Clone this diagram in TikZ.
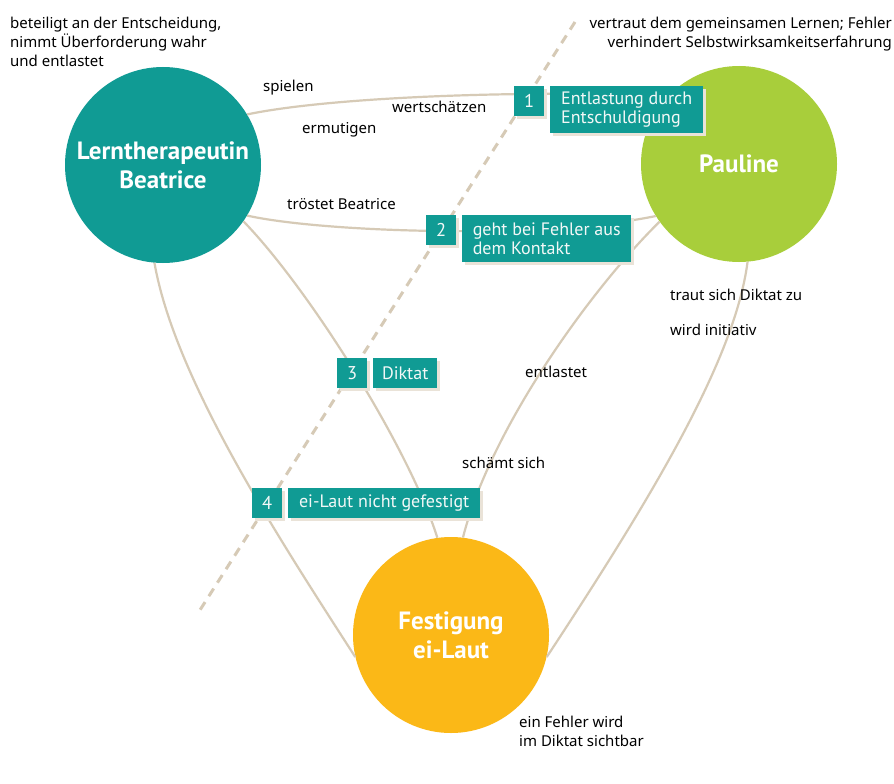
\documentclass[tikz,border=0pt]{standalone}
\usepackage{fontspec}
\setmainfont{PT Sans}
\newfontfamily\hand{Noto Sans}
\usetikzlibrary{shadows}
\definecolor{teal1}{HTML}{109B94}
\definecolor{green1}{HTML}{A8CE3B}
\definecolor{yellow1}{HTML}{FBB817}
\definecolor{beige1}{HTML}{D6CAB6}
\definecolor{shadow1}{HTML}{EAE3D8}
\definecolor{boxtext}{HTML}{F2F8F7}
\begin{document}
\begin{tikzpicture}[x=1pt,y=-1pt,
 bigcircle/.style={circle, minimum size=196pt, inner sep=0pt, text=white,
   font=\fontsize{25}{29}\selectfont\bfseries, align=center},
 conn/.style={draw=beige1, line width=2.2pt},
 boxshadow/.style={drop shadow={shadow xshift=3pt,shadow yshift=-3pt,fill=shadow1,opacity=1}},
 numbox/.style={fill=teal1, text=boxtext, minimum width=30pt, minimum height=30pt,
   inner sep=0pt, anchor=north west, font=\fontsize{18.5}{19}\selectfont, boxshadow},
 txtbox/.style={fill=teal1, text=boxtext, inner xsep=7pt, inner ysep=0pt,
   anchor=north west, align=left, font=\fontsize{18}{19}\selectfont, boxshadow},
 hw/.style={font=\hand\fontsize{15}{19}\selectfont, text=black, inner sep=0pt}
]
\useasboundingbox (0,0) rectangle (894,784);
\clip (0,0) rectangle (894,784);
\fill[white] (0,0) rectangle (894,784);

% circles
\node[bigcircle, fill=teal1] (B) at (163,165) {Lerntherapeutin\\Beatrice};
\node[bigcircle, fill=green1] (P) at (739,164) {Pauline};
\node[bigcircle, fill=yellow1] (F) at (451,635) {Festigung\\ei-Laut};

% connectors
\draw[conn] (B.31) .. controls (330,97) and (520,90) .. (P.136);
\draw[conn] (B.-31) .. controls (320,232) and (540,240) .. (P.212);
\draw[conn] (B.-35) .. controls (310,290) and (410,450) .. (F.98);
\draw[conn] (B.265) .. controls (175,380) and (280,540) .. (F.193);
\draw[conn] (P.216) .. controls (590,290) and (490,430) .. (F.83);
\draw[conn] (P.275) .. controls (735,360) and (650,500) .. (F.-13);

% dashed divider
\coordinate (d1) at (575,22);
\coordinate (d2) at (200,610);
\draw[draw=beige1, line width=3pt, dash pattern=on 9pt off 7pt] (d1) -- (d2);

% labels
\node[numbox] (n1) at (514,86) {1};
\node[txtbox, minimum width=153pt, minimum height=47pt] (t1) at (550,86) {Entlastung durch\\Entschuldigung};
\node[numbox] (n2) at (426,215) {2};
\node[txtbox, minimum width=169pt, minimum height=47pt] (t2) at (462,215) {geht bei Fehler aus\\dem Kontakt};
\node[numbox] (n3) at (337,358) {3};
\node[txtbox, minimum width=64pt, minimum height=30pt] (t3) at (373,358) {Diktat};
\node[numbox] (n4) at (252,488) {4};
\node[txtbox, minimum width=192pt, minimum height=30pt] (t4) at (288,488) {ei-Laut nicht gefestigt};

% handwritten notes
\node[hw, anchor=north west, align=left] (h1) at (10,17) {beteiligt an der Entscheidung,\\nimmt Überforderung wahr\\und entlastet};
\node[hw, anchor=north east, align=right] (h2) at (892,17) {vertraut dem gemeinsamen Lernen; Fehler\\verhindert Selbstwirksamkeitserfahrung};
\node[hw, anchor=base west] (h3) at (263,92) {spielen};
\node[hw, anchor=base west] (h4) at (392,112) {wertschätzen};
\node[hw, anchor=base west] (h5) at (302,133) {ermutigen};
\node[hw, anchor=base west] (h6) at (287,209) {tröstet Beatrice};
\node[hw, anchor=base west] (h7) at (670,300) {traut sich Diktat zu};
\node[hw, anchor=base west] (h8) at (670,335) {wird initiativ};
\node[hw, anchor=base west] (h9) at (525,377) {entlastet};
\node[hw, anchor=base west] (h10) at (462,468) {schämt sich};
\node[hw, anchor=north west, align=left] (h11) at (519,716) {ein Fehler wird\\im Diktat sichtbar};
\end{tikzpicture}
\end{document}
